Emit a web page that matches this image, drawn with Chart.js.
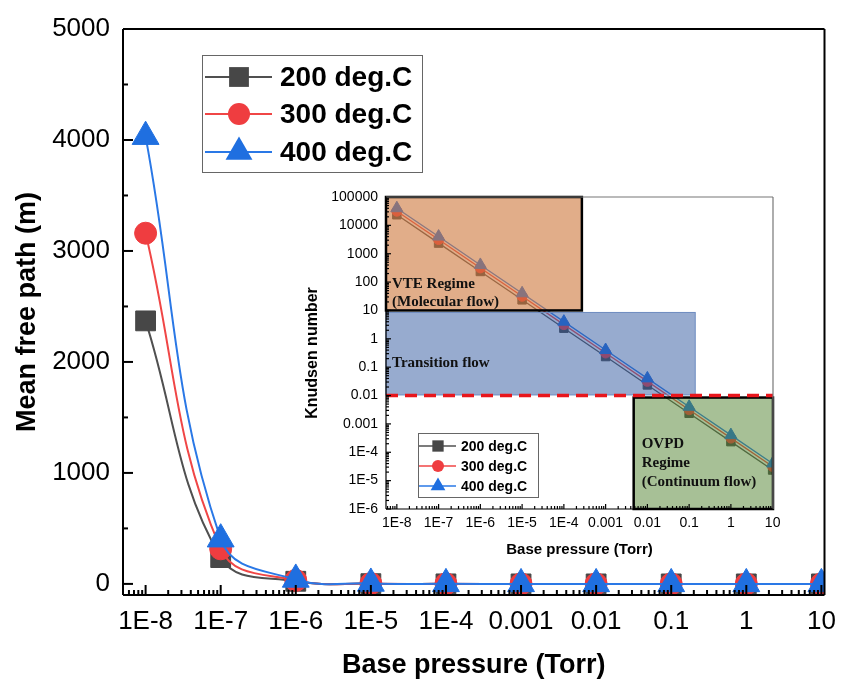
<!DOCTYPE html>
<html>
<head>
<meta charset="utf-8">
<script src="https://cdn.jsdelivr.net/npm/chart.js@4.4.1/dist/chart.umd.min.js"></script>
<style>
  html, body { margin: 0; padding: 0; background: #fff; }
  #wrap { position: relative; width: 841px; height: 685px; }
  #main { position: absolute; left: 0; top: 0; }
  #inset { position: absolute; left: 290px; top: 180px; }
</style>
</head>
<body>
<div id="wrap">
  <canvas id="main" width="841" height="685"></canvas>
  <canvas id="inset" width="500" height="390"></canvas>
</div>
<script>
// data
const PRESSURE = [1e-8, 1e-7, 1e-6, 1e-5, 1e-4, 0.001, 0.01, 0.1, 1, 10];
const SERIES_NAMES = ['200 deg.C', '300 deg.C', '400 deg.C'];

// mean free path (m)
const MFP_200 = [2370, 237, 23.7, 2.37, 0.237, 0.0237, 0.00237, 0.000237, 0.0000237, 0.00000237];
const MFP_300 = [3160, 316, 31.6, 3.16, 0.316, 0.0316, 0.00316, 0.000316, 0.0000316, 0.00000316];
const MFP_400 = [4030, 403, 40.3, 4.03, 0.403, 0.0403, 0.00403, 0.000403, 0.0000403, 0.00000403];

// Knudsen number (inset)
const KN_200 = [23700, 2370, 237, 23.7, 2.37, 0.237, 0.0237, 0.00237, 0.000237, 0.0000237];
const KN_300 = [31600, 3160, 316, 31.6, 3.16, 0.316, 0.0316, 0.00316, 0.000316, 0.0000316];
const KN_400 = [40300, 4030, 403, 40.3, 4.03, 0.403, 0.0403, 0.00403, 0.000403, 0.0000403];

const X_TICKS = [1e-8, 1e-7, 1e-6, 1e-5, 1e-4, 0.001, 0.01, 0.1, 1, 10];
const X_TICK_LABELS = ['1E-8', '1E-7', '1E-6', '1E-5', '1E-4', '0.001', '0.01', '0.1', '1', '10'];
const MAIN_Y_TICKS = [0, 1000, 2000, 3000, 4000, 5000];
const MAIN_Y_LABELS = ['0', '1000', '2000', '3000', '4000', '5000'];
const MAIN_Y_MINOR = [500, 1500, 2500, 3500, 4500];
const INSET_Y_TICKS = [1e-6, 1e-5, 1e-4, 1e-3, 1e-2, 0.1, 1, 10, 100, 1000, 10000, 100000];
const INSET_Y_LABELS = ['1E-6', '1E-5', '1E-4', '0.001', '0.01', '0.1', '1', '10', '100', '1000', '10000', '100000'];

// flow regimes in the inset (data units)
const VTE_X = [5.5e-9, 2.7e-4], VTE_Y = [10, 1e5];
const TRANS_X = [5.5e-9, 0.14], TRANS_Y = [0.0105, 8.5];
const OVPD_X = [4.7e-3, 10.2], OVPD_Y = [1e-6, 0.0085];
const KN_LIMIT = 0.01;

const SANS = '"Liberation Sans", Arial, sans-serif';
const SERIF = '"Liberation Serif", "Times New Roman", serif';
const STYLE = [
  { line: '#505050', fill: '#474747', point: 'rect' },
  { line: '#f04646', fill: '#ef3d40', point: 'circle' },
  { line: '#2a78e6', fill: '#1f6fe0', point: 'triangle' },
];

const pts = (ys) => PRESSURE.map((x, i) => ({ x, y: ys[i] }));

function logMinors(min, max) {
  const out = [];
  for (let e = Math.floor(Math.log10(min)); e <= Math.ceil(Math.log10(max)); e++) {
    for (let k = 2; k <= 9; k++) {
      const v = k * Math.pow(10, e);
      if (v >= min && v <= max) out.push(v);
    }
  }
  return out;
}

function drawMarker(ctx, style, x, y, r, fill) {
  ctx.beginPath();
  if (style === 'rect') {
    const s = r * Math.SQRT1_2;
    ctx.rect(x - s, y - s, 2 * s, 2 * s);
  } else if (style === 'circle') {
    ctx.arc(x, y, r, 0, Math.PI * 2);
  } else {
    for (let i = 0; i < 3; i++) {
      const a = i * 2 * Math.PI / 3;
      const px = x + Math.sin(a) * r, py = y - Math.cos(a) * r;
      if (i) ctx.lineTo(px, py); else ctx.moveTo(px, py);
    }
    ctx.closePath();
  }
  ctx.fillStyle = fill;
  ctx.fill();
}

// keep the plot box fixed: no extra room for overhanging tick labels
function fixAxis(size) {
  return (s) => {
    if (s.isHorizontal()) s.height = size; else s.width = size;
    s.paddingLeft = 0; s.paddingRight = 0; s.paddingTop = 0; s.paddingBottom = 0;
  };
}

// inward ticks + frame
function makeTicks(cfg) {
  return {
    id: 'ticks_' + cfg.name,
    afterDatasetsDraw(chart) {
      const { ctx, chartArea: a } = chart;
      const xs = chart.scales.x, ys = chart.scales.y;
      ctx.save();
      ctx.strokeStyle = '#000';
      ctx.lineWidth = cfg.lw;
      const seg = (x1, y1, x2, y2) => { ctx.beginPath(); ctx.moveTo(x1, y1); ctx.lineTo(x2, y2); ctx.stroke(); };
      const xt = (vals, len) => vals.forEach((v) => {
        const p = xs.getPixelForValue(v);
        if (p >= a.left - 0.5 && p <= a.right + 0.5) seg(p, a.bottom, p, a.bottom - len);
      });
      const yt = (vals, len) => vals.forEach((v) => {
        const p = ys.getPixelForValue(v);
        if (p >= a.top - 0.5 && p <= a.bottom + 0.5) seg(a.left, p, a.left + len, p);
      });
      xt(cfg.xMajor, cfg.major); xt(cfg.xMinor, cfg.minor);
      yt(cfg.yMajor, cfg.major); yt(cfg.yMinor, cfg.minor);
      // frame
      ctx.strokeStyle = cfg.farColor;
      seg(a.left, a.top, a.right, a.top);
      seg(a.right, a.top, a.right, a.bottom);
      ctx.strokeStyle = '#000';
      seg(a.left, a.top, a.left, a.bottom);
      seg(a.left, a.bottom, a.right, a.bottom);
      ctx.restore();
    },
  };
}

function makeLegend(cfg) {
  return {
    id: 'legend_' + cfg.name,
    afterDraw(chart) {
      const ctx = chart.ctx;
      const [bx, by, bw, bh] = cfg.box;
      ctx.save();
      ctx.fillStyle = '#fff';
      ctx.fillRect(bx, by, bw, bh);
      ctx.strokeStyle = '#666';
      ctx.lineWidth = 1;
      ctx.strokeRect(bx + 0.5, by + 0.5, bw, bh);
      SERIES_NAMES.forEach((name, i) => {
        const y = cfg.rows[i], st = STYLE[i];
        ctx.strokeStyle = st.line;
        ctx.lineWidth = cfg.lineWidth;
        ctx.beginPath(); ctx.moveTo(cfg.line[0], y); ctx.lineTo(cfg.line[1], y); ctx.stroke();
        drawMarker(ctx, st.point, cfg.marker, y, cfg.radii[i], st.fill);
        ctx.fillStyle = '#000';
        ctx.font = cfg.font;
        ctx.textBaseline = 'middle';
        ctx.textAlign = 'left';
        ctx.fillText(name, cfg.text, y + 1);
      });
      ctx.restore();
    },
  };
}

const insetOverlay = {
  id: 'insetOverlay',
  beforeDatasetsDraw(chart) {
    const { ctx, chartArea: a } = chart;
    ctx.save();
    ctx.fillStyle = '#fff';
    ctx.fillRect(a.left, a.top, a.right - a.left, a.bottom - a.top);
    ctx.restore();
  },
  afterDatasetsDraw(chart) {
    const { ctx, chartArea: a } = chart;
    const xs = chart.scales.x, ys = chart.scales.y;
    const rect = (bx, by) => {
      const l = Math.max(a.left, xs.getPixelForValue(bx[0]));
      const r = Math.min(a.right, xs.getPixelForValue(bx[1]));
      const t = Math.max(a.top, ys.getPixelForValue(by[1]));
      const b = Math.min(a.bottom, ys.getPixelForValue(by[0]));
      return { l, r, t, b };
    };
    ctx.save();
    // transition flow
    const tr = rect(TRANS_X, TRANS_Y);
    ctx.fillStyle = 'rgba(48, 88, 160, 0.5)';
    ctx.fillRect(tr.l, tr.t, tr.r - tr.l, tr.b - tr.t);
    ctx.strokeStyle = '#6d8cc0';
    ctx.lineWidth = 1;
    ctx.strokeRect(tr.l, tr.t, tr.r - tr.l, tr.b - tr.t);
    // VTE regime
    const v = rect(VTE_X, VTE_Y);
    ctx.fillStyle = 'rgba(205, 118, 58, 0.6)';
    ctx.fillRect(v.l, v.t, v.r - v.l, v.b - v.t);
    ctx.strokeStyle = '#000';
    ctx.lineWidth = 2.5;
    ctx.strokeRect(v.l, v.t, v.r - v.l, v.b - v.t);
    // OVPD regime
    const o = rect(OVPD_X, OVPD_Y);
    ctx.fillStyle = 'rgba(80, 130, 45, 0.5)';
    ctx.fillRect(o.l, o.t, o.r - o.l, o.b - o.t);
    ctx.strokeRect(o.l, o.t, o.r - o.l, o.b - o.t);
    // Kn = 0.01 limit
    const ky = ys.getPixelForValue(KN_LIMIT);
    ctx.strokeStyle = '#e8161c';
    ctx.lineWidth = 3.5;
    ctx.setLineDash([12, 7]);
    ctx.beginPath(); ctx.moveTo(a.left, ky); ctx.lineTo(a.right, ky); ctx.stroke();
    ctx.setLineDash([]);
    // labels
    ctx.fillStyle = '#111';
    ctx.font = 'bold 15px ' + SERIF;
    ctx.textBaseline = 'middle';
    ctx.textAlign = 'left';
    ctx.fillText('VTE Regime', v.l + 6, v.b - 26);
    ctx.fillText('(Molecular flow)', v.l + 6, v.b - 8);
    ctx.fillText('Transition flow', tr.l + 6, tr.t + 51);
    ctx.fillText('OVPD', o.l + 8, o.t + 47);
    ctx.fillText('Regime', o.l + 8, o.t + 66);
    ctx.fillText('(Continuum flow)', o.l + 8, o.t + 85);
    ctx.restore();
  },
};

// ---- main chart ----
const mainFont = { family: SANS, size: 26 };
const mainTitleFont = { family: SANS, size: 27, weight: 'bold' };
const mainRadii = [14, 11, 15.5];

new Chart(document.getElementById('main'), {
  type: 'line',
  data: {
    datasets: [MFP_200, MFP_300, MFP_400].map((ys, i) => ({
      label: SERIES_NAMES[i],
      data: pts(ys),
      borderColor: STYLE[i].line,
      backgroundColor: STYLE[i].fill,
      pointBackgroundColor: STYLE[i].fill,
      pointBorderColor: STYLE[i].fill,
      pointBorderWidth: 1,
      pointStyle: STYLE[i].point,
      pointRadius: mainRadii[i],
      borderWidth: 2,
      tension: 0.4,
      order: 3 - i,
    })),
  },
  options: {
    responsive: false,
    animation: false,
    events: [],
    layout: { padding: { top: 29, right: 15, left: 0, bottom: 0 } },
    plugins: { legend: { display: false }, tooltip: { enabled: false } },
    scales: {
      x: {
        type: 'logarithmic', min: 5e-9, max: 11,
        afterBuildTicks: (s) => { s.ticks = X_TICKS.map((value) => ({ value })); },
        afterFit: fixAxis(90),
        ticks: { callback: (v, i) => X_TICK_LABELS[i], autoSkip: false, maxRotation: 0, padding: 11, color: '#000', font: mainFont },
        grid: { display: false, drawTicks: false },
        border: { display: false },
        title: { display: true, text: 'Base pressure (Torr)', color: '#000', font: mainTitleFont, padding: { top: 0, bottom: 3 } },
      },
      y: {
        min: -100, max: 5000,
        afterBuildTicks: (s) => { s.ticks = MAIN_Y_TICKS.map((value) => ({ value })); },
        afterFit: fixAxis(123),
        ticks: { callback: (v, i) => MAIN_Y_LABELS[i], padding: 13, color: '#000', font: mainFont },
        grid: { display: false, drawTicks: false },
        border: { display: false },
        title: { display: true, text: 'Mean free path (m)', color: '#000', font: mainTitleFont, padding: { top: 11, bottom: 0 } },
      },
    },
  },
  plugins: [
    makeTicks({ name: 'main', lw: 2, major: 10, minor: 5, farColor: '#000',
      xMajor: X_TICKS, xMinor: logMinors(5e-9, 11), yMajor: MAIN_Y_TICKS, yMinor: MAIN_Y_MINOR }),
    makeLegend({ name: 'main', box: [202, 55, 220, 117], rows: [77, 114, 152], line: [205, 272], marker: 239,
      text: 280, radii: [14, 11, 15.5], lineWidth: 2, font: 'bold 28px ' + SANS }),
  ],
});

// ---- inset ----
const insetFont = { family: SANS, size: 14 };
const insetTitleFont = { family: SANS, size: 16, weight: 'bold' };
const insetRadii = [6, 5, 7];

new Chart(document.getElementById('inset'), {
  type: 'line',
  data: {
    datasets: [KN_200, KN_300, KN_400].map((ys, i) => ({
      label: SERIES_NAMES[i],
      data: pts(ys),
      borderColor: STYLE[i].line,
      backgroundColor: STYLE[i].fill,
      pointBackgroundColor: STYLE[i].fill,
      pointBorderColor: STYLE[i].fill,
      pointBorderWidth: 1,
      pointStyle: STYLE[i].point,
      pointRadius: insetRadii[i],
      borderWidth: 1.3,
      tension: 0,
      order: 3 - i,
    })),
  },
  options: {
    responsive: false,
    animation: false,
    events: [],
    layout: { padding: { top: 17, right: 17, left: 0, bottom: 0 } },
    plugins: { legend: { display: false }, tooltip: { enabled: false } },
    scales: {
      x: {
        type: 'logarithmic', min: 5.5e-9, max: 10.2,
        afterBuildTicks: (s) => { s.ticks = X_TICKS.map((value) => ({ value })); },
        afterFit: fixAxis(61),
        ticks: { callback: (v, i) => X_TICK_LABELS[i], autoSkip: false, maxRotation: 0, padding: 6, color: '#000', font: insetFont },
        grid: { display: false, drawTicks: false },
        border: { display: false },
        title: { display: true, text: 'Base pressure (Torr)', color: '#000', font: { family: SANS, size: 15, weight: 'bold' }, padding: { top: 0, bottom: 11 } },
      },
      y: {
        type: 'logarithmic', min: 1e-6, max: 1e5,
        afterBuildTicks: (s) => { s.ticks = INSET_Y_TICKS.map((value) => ({ value })); },
        afterFit: fixAxis(96),
        ticks: { callback: (v, i) => INSET_Y_LABELS[i], padding: 8, color: '#000', font: insetFont },
        grid: { display: false, drawTicks: false },
        border: { display: false },
        title: { display: true, text: 'Knudsen number', color: '#000', font: insetTitleFont, padding: { top: 13, bottom: 0 } },
      },
    },
  },
  plugins: [
    insetOverlay,
    makeTicks({ name: 'inset', lw: 1.2, major: 5, minor: 3, farColor: '#777',
      xMajor: X_TICKS, xMinor: logMinors(5.5e-9, 10.2), yMajor: INSET_Y_TICKS, yMinor: logMinors(1e-6, 1e5) }),
    makeLegend({ name: 'inset', box: [128, 253, 120, 64], rows: [266, 286, 306], line: [129, 166], marker: 148,
      text: 171, radii: [8, 6, 8.5], lineWidth: 1.3, font: 'bold 14px ' + SANS }),
  ],
});
</script>
</body>
</html>
